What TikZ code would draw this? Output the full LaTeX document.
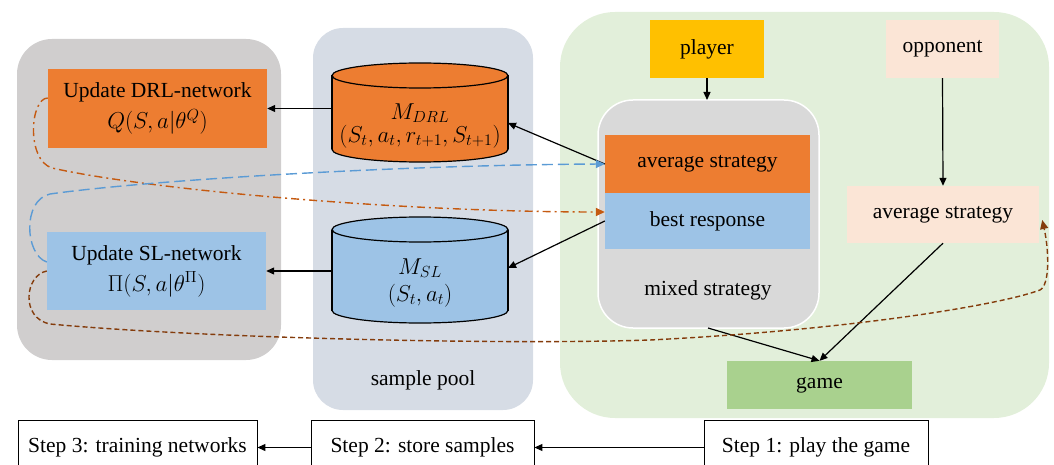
\RequirePackage{fix-cm}
\documentclass[tikz,border=0pt]{standalone}
\usepackage{fontspec}
\setmainfont{Liberation Serif}
\usetikzlibrary{arrows.meta,calc}
\definecolor{leftgray}{HTML}{D0CECE}
\definecolor{poolblue}{HTML}{D6DCE5}
\definecolor{gamegreenbg}{HTML}{E2EFDA}
\definecolor{mixgray}{HTML}{D9D9D9}
\definecolor{orng}{HTML}{ED7D31}
\definecolor{lblue}{HTML}{9DC3E6}
\definecolor{gold}{HTML}{FFC000}
\definecolor{peach}{HTML}{FBE5D6}
\definecolor{ggreen}{HTML}{A9D18E}
\definecolor{dblue}{HTML}{5B9BD5}
\definecolor{dorange}{HTML}{C55A11}
\definecolor{dbrown}{HTML}{843C0C}
\newcommand{\mbig}{\fontsize{23}{27}\selectfont}
\begin{document}
\begin{tikzpicture}[x=1pt,y=-1pt,font=\fontsize{21.5}{26}\selectfont,
  box/.style={inner sep=0pt,align=center},
  stepbox/.style={draw=black,line width=0.9pt,inner sep=0pt,minimum height=55,fill=white},
  arr/.style={line width=1.2pt,-{Triangle[length=8pt,width=7pt]}},
  cyl/.style={draw=black,line width=1.2pt}]
\useasboundingbox (0,0) rectangle (1054,465);
% background regions
\fill[leftgray, rounded corners=35pt] (17,39) rectangle (281,360);
\fill[poolblue, rounded corners=30pt] (313,28) rectangle (533,410);
\fill[gamegreenbg, rounded corners=55pt] (560,12) rectangle (1049,418);
\node[box] (pool) at (423,380) {sample pool};
\draw[white, line width=1.5pt, fill=mixgray, rounded corners=35pt] (598,100) rectangle (819,328);
\node[box] (mixed) at (708,290) {mixed strategy};
% networks
\node[box,fill=orng,minimum width=219,minimum height=79] (drlnet) at (157.5,108.5) {Update DRL-network\\[5pt]{\mbig$Q(S,a|\theta^{Q})$}};
\node[box,fill=lblue,minimum width=219,minimum height=78] (slnet) at (156.5,271) {Update SL-network\\[5pt]{\mbig$\Pi\bigl(S,a|\theta^{\Pi}\bigr)$}};
% DRL memory cylinder
\filldraw[cyl,fill=orng] (420,149.5) ellipse (88 and 12.5);
\fill[orng] (332,75.5) rectangle (508,149.5);
\draw[cyl] (332,75.5) -- (332,149.5) (508,75.5) -- (508,149.5);
\filldraw[cyl,fill=orng] (420,75.5) ellipse (88 and 12.5);
\node[box,minimum width=176,minimum height=74] (drlmem) at (420,126) {{\mbig$M_{DRL}$}\\[-3pt]{\mbig$(S_t,a_t,r_{t+1},S_{t+1})$}};
% SL memory cylinder
\filldraw[cyl,fill=lblue] (420,310.5) ellipse (88 and 12.5);
\fill[lblue] (332,229.5) rectangle (508,310.5);
\draw[cyl] (332,229.5) -- (332,310.5) (508,229.5) -- (508,310.5);
\filldraw[cyl,fill=lblue] (420,229.5) ellipse (88 and 12.5);
\node[box,minimum width=176,minimum height=81] (slmem) at (420,283) {{\mbig$M_{SL}$}\\[1pt]{\mbig$(S_t,a_t)$}};
% game side
\node[box,fill=gold,minimum width=114,minimum height=58] (player) at (707,49) {player};
\node[box,fill=peach,minimum width=113,minimum height=58] (opponent) at (942.5,49) {opponent};
\node[box,fill=orng,minimum width=205,minimum height=58] (avg) at (707.5,164) {average strategy};
\node[box,fill=lblue,minimum width=205,minimum height=56] (br) at (707.5,221) {best response};
\node[box,fill=peach,minimum width=192,minimum height=57] (oppavg) at (943,214.5) {average strategy};
\node[box,fill=ggreen,minimum width=185,minimum height=48] (game) at (819.5,385) {game};
% steps
\node[stepbox,minimum width=239] (step3) at (137.5,447.5) {Step 3: training networks};
\node[stepbox,minimum width=223] (step2) at (422.5,447.5) {Step 2: store samples};
\node[stepbox,minimum width=224] (step1) at (816,447.5) {Step 1: play the game};
% black connectors
\draw[arr] (drlmem.west |- 0,108.5) -- (drlnet.east);
\draw[arr] (slmem.west |- 0,271) -- (slnet.east);
\draw[arr] (avg.west) -- (508,123);
\draw[arr] (br.west) -- (508,268);
\draw[arr] (player.south) -- (707,100);
\draw[arr] (opponent.south) -- (oppavg.north);
\draw[arr] (708,328) -- (game.north);
\draw[arr] (oppavg.south) -- (game.north);
\draw[arr] (step1.west) -- (step2.east);
\draw[arr] (step2.west) -- (step3.east);
% dashed feedback curves
\draw[dorange,line width=1.4pt,dash pattern=on 8pt off 4pt on 2pt off 4pt,-{Triangle[length=9pt,width=8pt]}]
  ($(drlnet.west)+(0,-10.5)$) .. controls (30,98) and (26,160) .. (52,168)
  .. controls (150,190) and (400,212) .. ($(br.west)+(0,-9)$);
\draw[dblue,line width=1.4pt,dash pattern=on 11pt off 5pt,-{Triangle[length=9pt,width=8pt]}]
  ($(slnet.west)+(0,-9)$) .. controls (25,255) and (22,200) .. (50,194)
  .. controls (150,180) and (400,165) .. (avg.west);
\draw[dbrown,line width=1.4pt,dash pattern=on 5pt off 3pt,-{Triangle[length=9pt,width=8pt]}]
  (slnet.west) .. controls (25,275) and (20,318) .. (50,324)
  .. controls (200,338) and (500,345) .. (650,340)
  .. controls (850,330) and (1000,305) .. (1040,290)
  .. controls (1050,285) and (1049,250) .. ($(oppavg.east)+(3,5.5)$);
\end{tikzpicture}
\end{document}
